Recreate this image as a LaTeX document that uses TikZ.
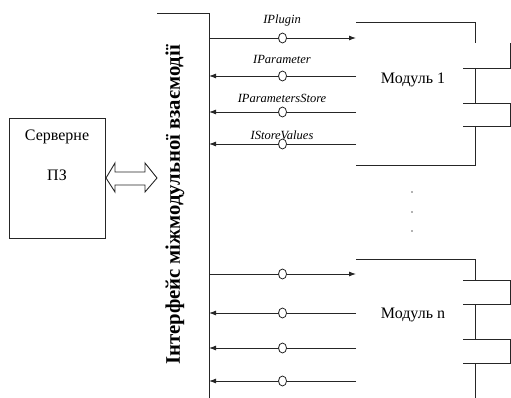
\documentclass[tikz,border=0pt]{standalone}
\usepackage{fontspec}
\setmainfont{Liberation Serif}
\newfontfamily\tms{Liberation Serif}
\usetikzlibrary{arrows.meta,shapes.geometric}
\begin{document}
\begin{tikzpicture}[x=1pt,y=-1pt,
  line/.style={line width=0.9pt,draw=black!85},
  tipped/.style={line width=0.9pt,draw=black!85,-{Latex[length=7pt,width=5pt]}},
  lolli/.style={ellipse,draw,fill=white,line width=0.8pt,minimum width=8pt,minimum height=10pt,inner sep=0pt},
  lbl/.style={font=\tms\itshape\fontsize{12.5}{13}\selectfont,inner sep=0pt},
  mtext/.style={font=\tms\fontsize{16}{18}\selectfont,inner sep=0pt},
  dotmark/.style={circle,fill=black!60,inner sep=0pt,minimum size=1.6pt}]
\useasboundingbox (0,0) rectangle (511,398);

% server software
\node[draw,line width=0.9pt,draw=black!85,minimum width=96pt,minimum height=120pt,inner sep=0pt] (srv) at (57,178) {};
\node[mtext] (srvA) at (57,137) {Серверне};
\node[mtext] (srvB) at (57,175) {ПЗ};

% hollow double arrow
\draw[line] (106,178) -- (115,163) -- (115,172) -- (145,172) -- (145,163) -- (157,178)
  -- (145,192) -- (145,185) -- (115,185) -- (115,192) -- cycle;

% interface bus
\coordinate (busL) at (157,13);
\coordinate (busTop) at (209,13);
\coordinate (busBot) at (209,398);
\draw[line] (busL) -- (busTop) -- (busBot);
\node[rotate=90,font=\tms\bfseries\fontsize{20.7}{21}\selectfont,inner sep=0pt] (bustext) at (175,205) {Інтерфейс міжмодульної взаємодії};

% module 1
\draw[line] (356,22) -- (475,22) -- (475,43);
\draw[line] (510,43) -- (510,68) -- (463,68);
\draw[line] (475,68) -- (475,103);
\draw[line] (463,103) -- (510,103) -- (510,126) -- (463,126);
\draw[line] (475,126) -- (475,165) -- (356,165);
\node[mtext] (m1) at (413,80) {Модуль 1};

% module n
\draw[line] (356,259) -- (475,259) -- (475,280);
\draw[line] (463,280) -- (510,280) -- (510,304) -- (463,304);
\draw[line] (475,304) -- (475,339);
\draw[line] (463,339) -- (510,339) -- (510,363) -- (463,363);
\draw[line] (475,363) -- (475,398);
\node[mtext] (mn) at (413,315) {Модуль n};

% dots
\node[dotmark] (d1) at (412,192) {};
\node[dotmark] (d2) at (412,212) {};
\node[dotmark] (d3) at (412,231) {};

% interface connectors, module 1
\coordinate (b1) at (209,38);  \coordinate (e1) at (356,38);
\coordinate (b2) at (209,76);  \coordinate (e2) at (356,76);
\coordinate (b3) at (209,112); \coordinate (e3) at (356,112);
\coordinate (b4) at (209,144); \coordinate (e4) at (356,144);
\draw[tipped] (b1) -- node[lolli] (c1) {} (e1);
\draw[tipped] (e2) -- node[lolli] (c2) {} (b2);
\draw[tipped] (e3) -- node[lolli] (c3) {} (b3);
\draw[tipped] (e4) -- node[lolli] (c4) {} (b4);
\node[lbl] (l1) at (282,20) {IPlugin};
\node[lbl] (l2) at (282,59) {IParameter};
\node[lbl] (l3) at (282,98) {IParametersStore};
\node[lbl] (l4) at (282,135) {IStoreValues};

% interface connectors, module n
\coordinate (b5) at (209,274); \coordinate (e5) at (356,274);
\coordinate (b6) at (209,313); \coordinate (e6) at (356,313);
\coordinate (b7) at (209,348); \coordinate (e7) at (356,348);
\coordinate (b8) at (209,381); \coordinate (e8) at (356,381);
\draw[tipped] (b5) -- node[lolli] (c5) {} (e5);
\draw[tipped] (e6) -- node[lolli] (c6) {} (b6);
\draw[tipped] (e7) -- node[lolli] (c7) {} (b7);
\draw[tipped] (e8) -- node[lolli] (c8) {} (b8);
\end{tikzpicture}
\end{document}
